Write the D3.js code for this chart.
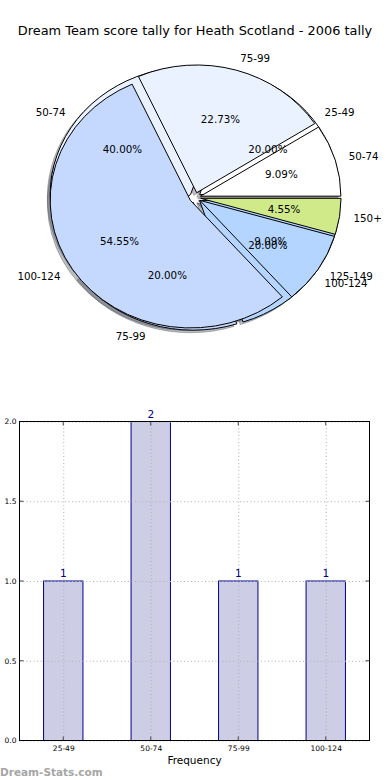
<!DOCTYPE html>
<html><head><meta charset="utf-8">
<script src="https://cdn.jsdelivr.net/npm/d3@7"></script>
<style>body{margin:0;background:#fff} svg{display:block}</style>
</head><body>
<svg id="c" width="390" height="780"></svg>
<script>
const title = "Dream Team score tally for Heath Scotland - 2006 tally";
const pieACategories = ["50-74","75-99","100-124","125-149","150+"];
const pieAValues = [2,5,12,2,1];
const pieBCategories = ["25-49","50-74","75-99","100-124"];
const pieBValues = [1,2,1,1];
const sliceColors = ["#ffffff","#eaf2ff","#c5d9ff","#b3d5ff","#d0ea8a"];
const barCategories = ["25-49","50-74","75-99","100-124"];
const barValues = [1,2,1,1];
const yTicks = [0,0.5,1.0,1.5,2.0];
const xLabel = "Frequency";
const watermark = "Dream-Stats.com";

const FONT = "DejaVu Sans";
const svg = d3.select("#c");

// title
svg.append("text").attr("x",195).attr("y",35).attr("text-anchor","middle")
  .attr("font-family",FONT).attr("font-size",12.9).attr("fill","#000").text(title);

// ---- pie ----
const cx=195.1, cy=197.6, rx=140.4, ry=127.7, ex=0.04;
const pie = d3.pie().sort(null).value(d=>d).startAngle(Math.PI/2).endAngle(Math.PI/2-2*Math.PI);
const arc = d3.arc().innerRadius(0).outerRadius(1);
function layout(vals, cats){
  const tot = d3.sum(vals);
  return pie(vals).map((d,i)=>{const m=(d.startAngle+d.endAngle)/2;
    return Object.assign({}, d, {i, cat:cats[i], pct:(d.value/tot*100).toFixed(2)+"%", ux:Math.sin(m), uy:-Math.cos(m)});});
}
const A = layout(pieAValues, pieACategories);
const B = layout(pieBValues, pieBCategories);
const pg = svg.append("g").attr("transform",`translate(${cx},${cy}) scale(${rx},${ry})`);
function shadowCol(c){const r=d3.rgb(c); return `rgba(${Math.round(r.r*0.3)},${Math.round(r.g*0.3)},${Math.round(r.b*0.3)},0.35)`;}
[B,A].forEach(S=>{
  pg.selectAll(null).data(S).enter().append("path")
    .attr("d",arc)
    .attr("transform",d=>`translate(${ex*d.ux-0.02},${ex*d.uy+0.02})`)
    .attr("fill",d=>shadowCol(sliceColors[d.i]))
    .attr("stroke",d=>shadowCol(sliceColors[d.i]))
    .attr("stroke-width",1).attr("vector-effect","non-scaling-stroke");
});
[B,A].forEach(S=>{
  pg.selectAll(null).data(S).enter().append("path")
    .attr("d",arc)
    .attr("transform",d=>`translate(${ex*d.ux},${ex*d.uy})`)
    .attr("fill",d=>sliceColors[d.i])
    .attr("stroke","#000").attr("stroke-width",1).attr("stroke-linejoin","miter")
    .attr("vector-effect","non-scaling-stroke");
});
[B,A].forEach(S=>{
  const tg = svg.append("g").attr("font-family",FONT).attr("fill","#000");
  tg.selectAll(null).data(S).enter().append("text")
    .attr("x",d=>cx+(1.1+ex)*rx*d.ux).attr("y",d=>cy+(1.1+ex)*ry*d.uy)
    .attr("dy","0.35em").attr("font-size",10.3)
    .attr("text-anchor",d=>d.ux>0?"start":"end").text(d=>d.cat);
  tg.selectAll(null).data(S).enter().append("text")
    .attr("x",d=>cx+(0.6+ex)*rx*d.ux).attr("y",d=>cy+(0.6+ex)*ry*d.uy)
    .attr("dy","0.35em").attr("font-size",10.3)
    .attr("text-anchor","middle").text(d=>d.pct);
});

// ---- bar chart ----
const L=19.5, R=369.5, T=421.5, Bt=740.5;
const x = d3.scaleLinear().domain([-0.5,barCategories.length-0.5]).range([L,R]);
const y = d3.scaleLinear().domain([0,2]).range([Bt,T]);
const bw = 0.45;
const bg = svg.append("g");
bg.selectAll(null).data(barValues).enter().append("rect")
  .attr("x",(d,i)=>x(i-bw/2)).attr("width",(d,i)=>x(i+bw/2)-x(i-bw/2))
  .attr("y",d=>y(d)).attr("height",d=>y(0)-y(d))
  .attr("fill","#cdcde6").attr("stroke","#00008b").attr("stroke-width",1);

// grid
const xi = d3.range(barCategories.length);
const gx = svg.append("g").attr("transform",`translate(0,${Bt})`)
  .call(d3.axisBottom(x).tickValues(xi).tickSize(-(Bt-T)).tickFormat(""));
const gy = svg.append("g").attr("transform",`translate(${L},0)`)
  .call(d3.axisLeft(y).tickValues(yTicks).tickSize(-(R-L)).tickFormat(""));
[gx,gy].forEach(g=>{g.select(".domain").remove();
  g.selectAll("line").attr("stroke","#b0b0b0").attr("stroke-dasharray","1,2.5").attr("stroke-width",1);});

// inner tick marks
const tk = svg.append("g").attr("stroke","#444").attr("stroke-width",1);
xi.forEach(i=>{tk.append("line").attr("x1",x(i)).attr("x2",x(i)).attr("y1",Bt).attr("y2",Bt-4);
               tk.append("line").attr("x1",x(i)).attr("x2",x(i)).attr("y1",T).attr("y2",T+4);});
yTicks.forEach(v=>{tk.append("line").attr("x1",L).attr("x2",L+4).attr("y1",y(v)).attr("y2",y(v));
                   tk.append("line").attr("x1",R).attr("x2",R-4).attr("y1",y(v)).attr("y2",y(v));});

// frame
svg.append("rect").attr("x",L).attr("y",T).attr("width",R-L).attr("height",Bt-T)
  .attr("fill","none").attr("stroke","#000").attr("stroke-width",1);

// tick labels
const lx = svg.append("g").attr("transform",`translate(0,${Bt})`)
  .call(d3.axisBottom(x).tickValues(xi).tickSize(0).tickPadding(5).tickFormat(i=>barCategories[i]));
const ly = svg.append("g").attr("transform",`translate(${L},0)`)
  .call(d3.axisLeft(y).tickValues(yTicks).tickSize(0).tickPadding(3).tickFormat(d3.format(".1f")));
[lx,ly].forEach(g=>{g.select(".domain").remove();
  g.selectAll("text").attr("font-family",FONT).attr("font-size",7.5).attr("fill","#000");});

// value labels
svg.append("g").selectAll(null).data(barValues).enter().append("text")
  .attr("x",(d,i)=>x(i)).attr("y",d=>y(d)-4).attr("text-anchor","middle")
  .attr("font-family",FONT).attr("font-size",10.5).attr("fill","#00008b").text(d=>d);

svg.append("text").attr("x",(L+R)/2).attr("y",764).attr("text-anchor","middle")
  .attr("font-family",FONT).attr("font-size",10.5).attr("fill","#000").text(xLabel);

svg.append("text").attr("x",0).attr("y",775.5).attr("font-family",FONT).attr("font-weight","bold")
  .attr("font-size",10.5).attr("fill","#a6a6a6").text(watermark);
</script>
</body></html>
